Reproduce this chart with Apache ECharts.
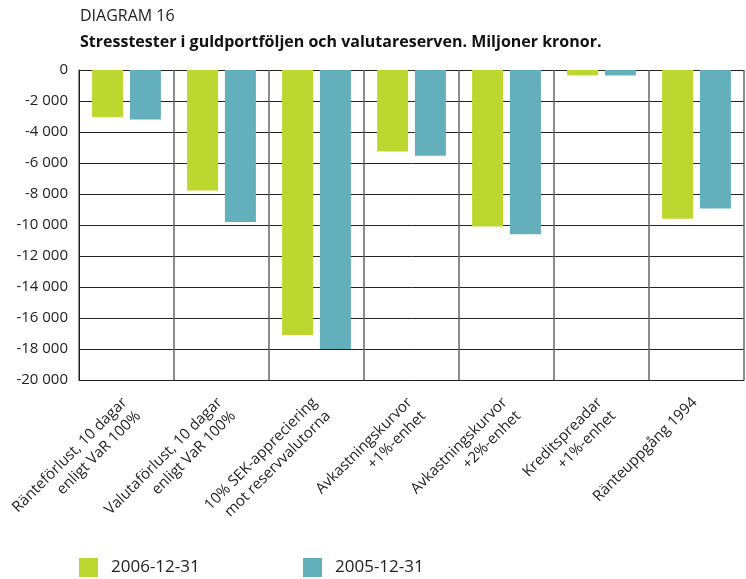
<!DOCTYPE html>
<html>
<head>
<meta charset="utf-8">
<script src="https://cdn.jsdelivr.net/npm/echarts@6/dist/echarts.min.js"></script>
<style>
html,body{margin:0;padding:0;background:#fff;}
#chart{width:746px;height:579px;}
</style>
</head>
<body>
<div id="chart"></div>
<script>
// kategorier (två rader per etikett)
var categories = [
    'Ränteförlust, 10 dagar\nenligt VaR 100%',
    'Valutaförlust, 10 dagar\nenligt VaR 100%',
    '10% SEK-appreciering\nmot reservvalutorna',
    'Avkastningskurvor\n+1%-enhet',
    'Avkastningskurvor\n+2%-enhet',
    'Kreditspreadar\n+1%-enhet',
    'Ränteuppgång 1994'
];
var seriesNames = ['2006-12-31', '2005-12-31'];
var values2006 = [-3050, -7770, -17100, -5250, -10100, -350, -9600];
var values2005 = [-3200, -9800, -18000, -5530, -10600, -350, -8930];
var yTicks = {min: -20000, max: 0, step: 2000};

var green = '#bdd731';
var teal = '#63afbb';
var fontFam = '"Open Sans", "Noto Sans", sans-serif';

function fmt(v){
    var s = Math.abs(v).toString();
    var out = s.replace(/\B(?=(\d{3})+(?!\d))/g, ' ');
    return (v < 0 ? '-' : '') + out;
}

var myChart = echarts.init(document.getElementById('chart'));
var legendText = {fontFamily: fontFam, fontSize: 17, color: '#222', padding: [0, 0, 0, 8]};
var option = {
    backgroundColor: '#fff',
    animation: false,
    title: [{
        text: 'DIAGRAM 16',
        left: 80, top: 8, padding: 0,
        textStyle: {fontFamily: fontFam, fontSize: 16, fontWeight: 'normal', color: '#222'}
    },{
        text: 'Stresstester i guldportföljen och valutareserven. Miljoner kronor.',
        left: 80, top: 34, padding: 0,
        textStyle: {fontFamily: fontFam, fontSize: 16, fontWeight: 'bold', color: '#111'}
    }],
    legend: [{
        data: [seriesNames[0]],
        left: 79, top: 558, padding: 0,
        icon: 'rect', itemWidth: 19, itemHeight: 19,
        textStyle: legendText
    },{
        data: [seriesNames[1]],
        left: 303, top: 558, padding: 0,
        icon: 'rect', itemWidth: 19, itemHeight: 19,
        textStyle: legendText
    }],
    grid: {left: 79, right: 2, top: 70, bottom: 199, containLabel: false},
    xAxis: {
        type: 'category',
        data: categories,
        position: 'bottom',
        axisLine: {onZero: false, lineStyle: {color: '#222', width: 1}},
        axisTick: {show: false},
        splitLine: {show: true, lineStyle: {color: '#666', width: 1.5}},
        axisLabel: {
            interval: 0,
            rotate: 45,
            margin: 5,
            align: 'right',
            verticalAlign: 'top',
            padding: [0, 12, 0, 0],
            fontFamily: fontFam,
            fontSize: 15,
            color: '#222',
            lineHeight: 19
        }
    },
    yAxis: {
        type: 'value',
        min: yTicks.min,
        max: yTicks.max,
        interval: yTicks.step,
        axisLine: {show: true, lineStyle: {color: '#222', width: 1}},
        axisTick: {show: false},
        splitLine: {show: true, lineStyle: {color: '#222', width: 1}},
        axisLabel: {
            margin: 11,
            fontFamily: fontFam,
            fontSize: 15,
            color: '#222',
            formatter: fmt
        }
    },
    series: [{
        name: seriesNames[0],
        type: 'bar',
        data: values2006,
        barWidth: 31,
        barGap: '22%',
        itemStyle: {color: green}
    },{
        name: seriesNames[1],
        type: 'bar',
        data: values2005,
        barWidth: 31,
        barGap: '22%',
        itemStyle: {color: teal}
    }]
};
myChart.setOption(option);
</script>
</body>
</html>
